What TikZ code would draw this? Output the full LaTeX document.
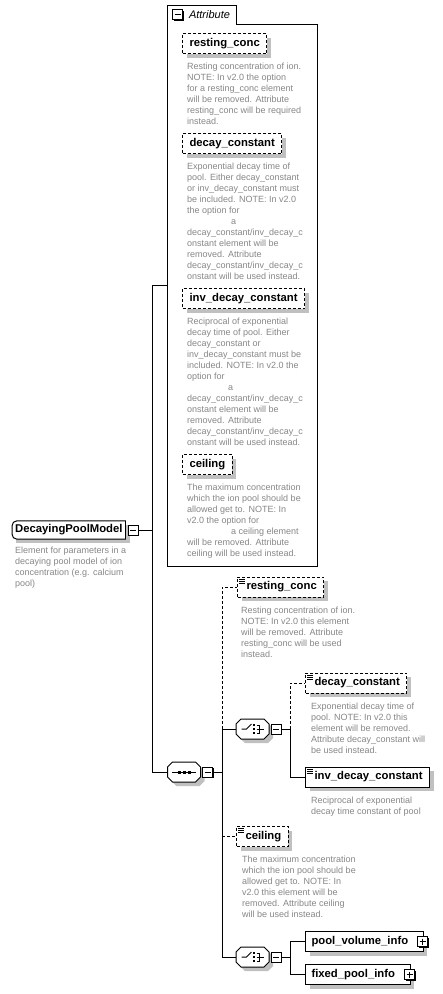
\documentclass[tikz,border=0pt]{standalone}
\usepackage{fontspec}
\setmainfont{Liberation Sans}
\usetikzlibrary{positioning, shadows}
\definecolor{docgray}{HTML}{878787}
\definecolor{shadegray}{HTML}{C0C0C0}
\tikzset{
  conn/.style={line width=1pt, black},
  optconn/.style={conn, dash pattern=on 3pt off 2pt},
  elem/.style={rectangle, draw, line width=1pt, fill=white, minimum height=20pt,
               inner xsep=7pt, inner ysep=0pt,
               font=\fontsize{11.3}{13}\selectfont\bfseries,
               drop shadow={shadow xshift=4pt, shadow yshift=-4pt, fill=shadegray, opacity=1}},
  optelem/.style={elem, dash pattern=on 3pt off 2pt},
  attbox/.style={optelem, anchor=north west},
  txticon/.style={path picture={
      \foreach \d in {2,4,6}
        \draw[solid, line width=0.7pt] ([shift={(1.5pt,-\d pt)}]path picture bounding box.north west) -- ++(6pt,0pt);}},
  doc/.style={font=\fontsize{9}{11}\selectfont, text=docgray, align=left, inner sep=0pt},
  pmbox/.style={rectangle, draw, line width=1pt, fill=white, minimum size=10pt, inner sep=0pt,
                drop shadow={shadow xshift=1pt, shadow yshift=-1pt, fill=black, opacity=1}},
  minusbox/.style={pmbox, path picture={
      \draw[line width=1pt] ([xshift=2pt]path picture bounding box.west) -- ([xshift=-2pt]path picture bounding box.east);}},
  plusbox/.style={pmbox, path picture={
      \draw[line width=1pt] ([xshift=2pt]path picture bounding box.west) -- ([xshift=-2pt]path picture bounding box.east);
      \draw[line width=1pt] ([yshift=-2pt]path picture bounding box.north) -- ([yshift=2pt]path picture bounding box.south);}},
  compbox/.style={rectangle, minimum width=33pt, minimum height=20pt, inner sep=0pt, outer sep=0pt},
  rootbox/.style={rectangle, fill=white, minimum height=18pt, inner xsep=3pt, inner ysep=0pt,
                  font=\fontsize{11.3}{13}\selectfont\bfseries,
                  drop shadow={shadow xshift=4pt, shadow yshift=-4pt, fill=shadegray, opacity=1}},
}
% octagon round a compositor node: node, x shift, y shift
\newcommand{\octpath}[3]{([shift={(#2+5pt,#3)}]#1.north west) -- ([shift={(#2-5pt,#3)}]#1.north east)
  -- ([shift={(#2,#3-5pt)}]#1.north east) -- ([shift={(#2,#3+5pt)}]#1.south east)
  -- ([shift={(#2-5pt,#3)}]#1.south east) -- ([shift={(#2+5pt,#3)}]#1.south west)
  -- ([shift={(#2,#3+5pt)}]#1.south west) -- ([shift={(#2,#3-5pt)}]#1.north west) -- cycle}
\newcommand{\compframe}[1]{%
  \fill[shadegray] \octpath{#1}{4pt}{-4pt};
  \draw[conn, fill=white] \octpath{#1}{0pt}{0pt};}
\newcommand{\seqglyph}[1]{%
  \draw[line width=1pt] ([xshift=-12pt]#1.center) -- ([xshift=12pt]#1.center);
  \foreach \dx in {-5,0,5}
    \fill ([xshift=\dx pt]#1.center) +(-1.5pt,-1.5pt) rectangle +(1.5pt,1.5pt);}
\newcommand{\choiceglyph}[1]{%
  \draw[line width=1pt] ([xshift=-11pt]#1.center) -- ([xshift=-6pt]#1.center) -- ([xshift=-1pt,yshift=5pt]#1.center);
  \foreach \dy in {-4,0,4}
    \fill ([xshift=1.5pt,yshift=\dy pt]#1.center) +(-1pt,-1pt) rectangle +(1pt,1pt);
  \draw[line width=1pt] ([xshift=4pt,yshift=4pt]#1.center) -- ([xshift=7pt,yshift=4pt]#1.center)
    -- ([xshift=7pt,yshift=-4pt]#1.center) -- ([xshift=4pt,yshift=-4pt]#1.center);
  \draw[line width=1pt] ([xshift=4pt]#1.center) -- ([xshift=11pt]#1.center);}

\begin{document}
\begin{tikzpicture}[x=1pt, y=-1pt]
  \fill[white] (0,0) rectangle (443,994);
  \useasboundingbox (0,0) rectangle (443,994);

  % root element
  \node[rootbox, anchor=west] (root) at (12,530) {DecayingPoolModel};
  \draw[conn, rounded corners=5pt] (root.south east) -- (root.south west) -- (root.north west) -- (root.north east);
  \draw[conn] (root.north east) -- (root.south east);
  \node[minusbox, right=2pt of root] (rminus) {};
  \node[doc, below right=8pt and 3pt of root.south west] (rootdoc) {Element for parameters in a\\decaying pool model of ion\\concentration (e.g. calcium\\pool)};

  % attribute group
  \node[rectangle, outer sep=0pt, minimum width=150pt, minimum height=542pt, anchor=north west] (grp) at (167,24) {};
  \node[rectangle, outer sep=0pt, minimum width=69pt, minimum height=19pt, inner sep=0pt, anchor=south west,
        font=\fontsize{11}{13}\selectfont\itshape] (tab) at (grp.north west) {\hspace{16pt}Attribute};
  \draw[conn] (grp.south west) -- (tab.north west) -- (tab.north east) -- (tab.south east)
    -- (grp.north east) -- (grp.south east) -- cycle;
  \node[minusbox] (tminus) at ([xshift=10.5pt]tab.west) {};

  \node[attbox] (arc) at (182,33) {resting\_conc};
  \node[doc, below right=9pt and 5pt of arc.south west] (arcdoc) {Resting concentration of ion.\\NOTE: In v2.0 the option\\for a resting\_conc element\\will be removed. Attribute\\resting\_conc will be required\\instead.};
  \node[attbox] (adc) at (182,133) {decay\_constant};
  \node[doc, below right=9pt and 5pt of adc.south west] (adcdoc) {Exponential decay time of\\pool. Either decay\_constant\\or inv\_decay\_constant must\\be included. NOTE: In v2.0\\the option for\\\hspace*{44pt}a\\decay\_constant/inv\_decay\_c\\onstant element will be\\removed. Attribute\\decay\_constant/inv\_decay\_c\\onstant will be used instead.};
  \node[attbox] (aidc) at (182,288) {inv\_decay\_constant};
  \node[doc, below right=9pt and 5pt of aidc.south west] (aidcdoc) {Reciprocal of exponential\\decay time of pool. Either\\decay\_constant or\\inv\_decay\_constant must be\\included. NOTE: In v2.0 the\\option for\\\hspace*{41pt}a\\decay\_constant/inv\_decay\_c\\onstant element will be\\removed. Attribute\\decay\_constant/inv\_decay\_c\\onstant will be used instead.};
  \node[attbox] (aceil) at (182,454) {ceiling};
  \node[doc, below right=9pt and 5pt of aceil.south west] (aceildoc) {The maximum concentration\\which the ion pool should be\\allowed get to. NOTE: In\\v2.0 the option for\\\hspace*{44pt}a ceiling element\\will be removed. Attribute\\ceiling will be used instead.};

  % sequence
  \node[compbox] (seq) at (184,772) {};
  \compframe{seq}
  \seqglyph{seq}
  \node[minusbox, right=1.5pt of seq] (sminus) {};

  \node[optelem, txticon, anchor=west] (rc) at (237,587) {\hspace{2pt}resting\_conc};
  \node[doc, below right=9pt and 4pt of rc.south west] (rcdoc) {Resting concentration of ion.\\NOTE: In v2.0 this element\\will be removed. Attribute\\resting\_conc will be used\\instead.};

  \node[compbox] (ch1) at (252.5,729) {};
  \compframe{ch1}
  \choiceglyph{ch1}
  \node[minusbox, right=1.5pt of ch1] (c1minus) {};
  \node[optelem, txticon, anchor=west] (dc) at (305,683) {\hspace{2pt}decay\_constant};
  \node[doc, below right=9pt and 6pt of dc.south west] (dcdoc) {Exponential decay time of\\pool. NOTE: In v2.0 this\\element will be removed.\\Attribute decay\_constant will\\be used instead.};
  \node[elem, txticon, anchor=west] (idc) at (305,777) {\hspace{2pt}inv\_decay\_constant};
  \node[doc, below right=9pt and 6pt of idc.south west] (idcdoc) {Reciprocal of exponential\\decay time constant of pool};

  \node[optelem, txticon, anchor=west] (ceil) at (236,836.5) {\hspace{2pt}ceiling};
  \node[doc, below right=9pt and 6pt of ceil.south west] (ceildoc) {The maximum concentration\\which the ion pool should be\\allowed get to. NOTE: In\\v2.0 this element will be\\removed. Attribute ceiling\\will be used instead.};

  \node[compbox] (ch2) at (252.5,957) {};
  \compframe{ch2}
  \choiceglyph{ch2}
  \node[minusbox, right=1.5pt of ch2] (c2minus) {};
  \node[elem, anchor=west, inner xsep=6pt] (pvi) at (305,941.5) {pool\_volume\_info\kern9pt};
  \node[plusbox] (pviplus) at ([xshift=-1pt]pvi.east) {};
  \node[elem, anchor=west, inner xsep=6pt] (fpi) at (305,974.5) {fixed\_pool\_info\kern9pt};
  \node[plusbox] (fpiplus) at ([xshift=-1pt]fpi.east) {};

  % connectors
  \coordinate (tr) at (152,285);
  \draw[conn] (grp.west |- tr) -- (tr) |- (seq.west);
  \draw[conn] (rminus.east) -- (rminus.east -| tr);
  \coordinate (sq) at (222,772);
  \draw[conn] (sminus.east) -- (sq);
  \draw[optconn] (sq |- ch1.west) |- (rc.west);
  \draw[conn] (ch1.west) -- (sq |- ch1.west) -- (sq |- ch2.west) -- (ch2.west);
  \draw[optconn] (sq |- ceil.west) -- (ceil.west);
  \coordinate (c1) at (290,729);
  \draw[conn] (c1minus.east) -- (c1);
  \draw[optconn] (c1) |- (dc.west);
  \draw[conn] (c1) |- (idc.west);
  \coordinate (c2) at (290,957);
  \draw[conn] (c2minus.east) -- (c2) |- (pvi.west);
  \draw[conn] (c2) |- (fpi.west);
\end{tikzpicture}
\end{document}
